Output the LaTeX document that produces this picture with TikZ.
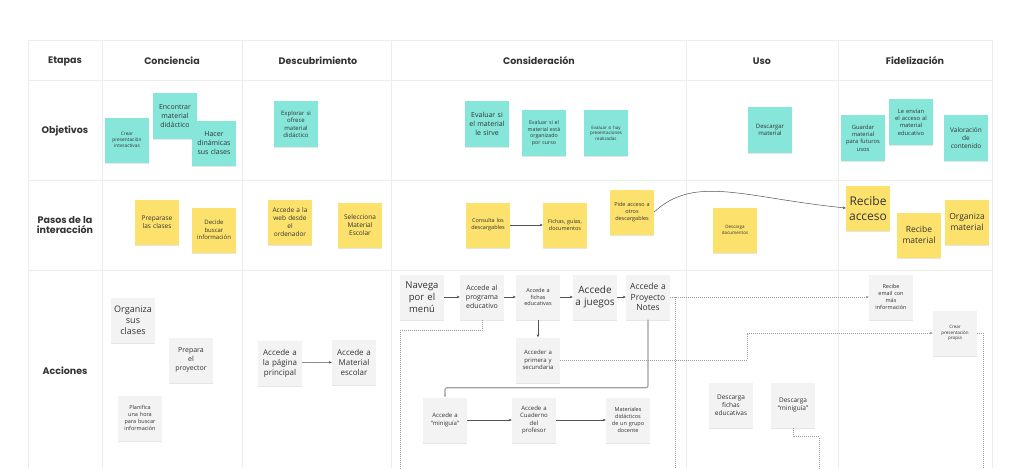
\documentclass[tikz,border=0pt]{standalone}
\usepackage{fontspec}
\setmainfont{Open Sans}
\newfontfamily\titulo{Poppins}
\usetikzlibrary{arrows.meta,shadows}

\definecolor{turquesa}{HTML}{86E6DA}
\definecolor{amarillo}{HTML}{FCE26C}
\definecolor{gris}{HTML}{F3F3F3}
\definecolor{linea}{HTML}{EDEDED}
\definecolor{texto}{HTML}{333333}

\tikzset{
	nota/.style={minimum width=44pt, minimum height=45pt, text width=42pt, inner sep=1pt,
		align=center, text=texto,
		drop shadow={shadow xshift=0pt, shadow yshift=-1.2pt, opacity=.1, fill=black}},
	objetivo/.style={nota, fill=turquesa},
	paso/.style={nota, fill=amarillo},
	accion/.style={nota, fill=gris},
	etapa/.style={font=\titulo\bfseries\fontsize{9.5}{11}\selectfont, text=texto, align=center},
	flecha/.style={draw=texto!85, line width=.5pt, -{Stealth[length=3pt,width=2.6pt]}},
	punteado/.style={draw=gray!80, line width=.6pt, dash pattern=on .8pt off 1.2pt}
}
\newcommand{\fs}[1]{\fontsize{#1}{\dimexpr#1pt*5/4\relax}\selectfont}

\begin{document}
\begin{tikzpicture}[x=1pt,y=-1pt]
	\fill[white] (0,0) rectangle (1024,468);
	\useasboundingbox (0,0) rectangle (1024,468);

	% TABLA
	\foreach \y in {40,80,180,270}
		\draw[linea] (28,\y) -- (992,\y);
	\foreach \x in {28,102,242,391,686,838,992}
		\draw[linea] (\x,40) -- (\x,468);

	% ETAPAS
	\node[etapa] (etapas) at (65,61) {Etapas};
	\node[etapa] (conciencia) at (172,61) {Conciencia};
	\node[etapa] (descubrimiento) at (318,61) {Descubrimiento};
	\node[etapa] (consideracion) at (539,61) {Consideración};
	\node[etapa] (uso) at (762,61) {Uso};
	\node[etapa] (fidelizacion) at (915,61) {Fidelización};
	\node[etapa] (objetivos) at (65,131) {Objetivos};
	\node[etapa] (pasos) at (65,225) {Pasos de la\\[-1pt]interacción};
	\node[etapa] (acciones) at (65,371) {Acciones};

	% OBJETIVOS
	\node[objetivo, font=\fs{4.8}] (crear) at (127,140) {Crear\\presentación\\interactivas};
	\node[objetivo, font=\fs{7}] (encontrar) at (175,116) {Encontrar\\material\\didáctico};
	\node[objetivo, font=\fs{7}] (hacer) at (214,143) {Hacer\\dinámicas\\sus clases};
	\node[objetivo, font=\fs{6}] (explorar) at (296,124) {Explorar si\\ofrece\\material\\didáctico};
	\node[objetivo, font=\fs{7}] (sirve) at (487,124) {Evaluar si\\el material\\le sirve};
	\node[objetivo, font=\fs{5.3}] (organizado) at (544,133) {Evaluar si el\\material está\\organizado\\por curso};
	\node[objetivo, font=\fs{4.5}] (realizadas) at (606,133) {Evaluar si hay\\presentaciones\\realizadas};
	\node[objetivo, font=\fs{6}] (descargar) at (770,130) {Descargar\\material};
	\node[objetivo, font=\fs{5.8}] (guardar) at (863,138) {Guardar\\material\\para futuros\\usos};
	\node[objetivo, font=\fs{5.8}] (envian) at (911,122) {Le envían\\el acceso al\\material\\educativo};
	\node[objetivo, font=\fs{6.5}] (valoracion) at (966,138) {Valoración\\de\\contenido};

	% PASOS DE LA INTERACCION
	\node[paso, font=\fs{6.5}] (preparase) at (157,222) {Preparase\\las clases};
	\node[paso, font=\fs{6}] (decide) at (214,230) {Decide\\buscar\\información};
	\node[paso, font=\fs{6.5}] (web) at (290,222) {Accede a la\\web desde\\el\\ordenador};
	\node[paso, font=\fs{6.5}] (selecciona) at (360,225) {Selecciona\\Material\\Escolar};
	\node[paso, font=\fs{5.5}] (consulta) at (488,225) {Consulta los\\descargables};
	\node[paso, font=\fs{5.5}] (fichas) at (565,225) {Fichas, guías,\\documentos};
	\node[paso, font=\fs{5.5}] (pide) at (632,212) {Pide acceso a\\otros\\descargables};
	\node[paso, font=\fs{4.5}] (documentos) at (735,230) {Descarga\\documentos};
	\node[paso, font=\fs{12}] (acceso) at (868,208) {Recibe\\acceso};
	\node[paso, font=\fs{8.5}] (recibemat) at (919,235) {Recibe\\material};
	\node[paso, font=\fs{8.5}] (organizamat) at (967,222) {Organiza\\material};

	\draw[flecha] (consulta) -- (fichas);
	\draw[flecha] (pide.east) .. controls (695,174) and (745,198) .. (acceso.west);

	% ACCIONES
	\node[accion, font=\fs{9}] (clases) at (133,320) {Organiza\\sus\\clases};
	\node[accion, font=\fs{7}] (proyector) at (191,360) {Prepara\\el\\proyector};
	\node[accion, font=\fs{5.5}] (planifica) at (140,418) {Planifica\\una hora\\para buscar\\información};
	\node[accion, font=\fs{8}] (pagina) at (280,363) {Accede a\\la página\\principal};
	\node[accion, font=\fs{8}] (matescolar) at (354,362) {Accede a\\Material\\escolar};
	\node[accion, font=\fs{9.5}] (navega) at (422,297) {Navega\\por el\\menú};
	\node[accion, font=\fs{7}] (programa) at (482,297) {Accede al\\programa\\educativo};
	\node[accion, font=\fs{5.5}] (accfichas) at (538,297) {Accede a\\fichas\\educativas};
	\node[accion, font=\fs{10}] (juegos) at (595,297) {Accede\\a juegos};
	\node[accion, font=\fs{8.5}] (notes) at (648,297) {Accede a\\Proyecto\\Notes};
	\node[accion, font=\fs{6}] (primaria) at (538,360) {Acceder a\\primera y\\secundaria};
	\node[accion, font=\fs{6}] (miniguia) at (445,420) {Accede a\\“miniguía”};
	\node[accion, font=\fs{6}] (cuaderno) at (534,420) {Accede a\\Cuaderno\\del\\profesor};
	\node[accion, font=\fs{5.5}] (materiales) at (628,420) {Materiales\\didácticos\\de un grupo\\docente};
	\node[accion, font=\fs{5.5}] (email) at (891,297) {Recibe\\email con\\más\\información};
	\node[accion, font=\fs{4.5}] (propia) at (955,333) {Crear\\presentación\\propia};
	\node[accion, font=\fs{6.5}] (descfichas) at (731,405) {Descarga\\fichas\\educativas};
	\node[accion, font=\fs{6.5}] (descmini) at (793,405) {Descarga\\“miniguía”};

	\draw[flecha] (pagina) -- (matescolar);
	\draw[flecha] (navega) -- (programa);
	\draw[flecha] (programa) -- (accfichas);
	\draw[flecha] (accfichas) -- (juegos);
	\draw[flecha] (juegos) -- (notes);
	\draw[flecha] (accfichas) -- (primaria);
	\draw[flecha] (miniguia) -- (cuaderno);
	\draw[flecha] (cuaderno) -- (materiales);
	\draw[flecha, draw=gray!75, line width=1.1pt, rounded corners=2pt] (notes.south) -- ++(0,68) -| (miniguia.north);

	% LINEAS PUNTEADAS
	\coordinate (finA) at (400,468);
	\coordinate (finB) at (675,468);
	\coordinate (finD) at (983,468);
	\coordinate (finE) at (819,468);
	\draw[punteado] (programa.south) -- ++(0,11) -| (finA);
	\draw[punteado, -{Stealth[length=3pt,width=2.6pt]}] (notes.east) -- (email.west);
	\draw[punteado] (notes.east -| finB) -- (finB);
	\draw[punteado, -{Stealth[length=3pt,width=2.6pt]}] (primaria.east) -- ++(187,0) |- (propia.west);
	\draw[punteado] (propia.east) -| (finD);
	\draw[punteado] (descmini.south) -- ++(0,9) -| (finE);
\end{tikzpicture}
\end{document}
